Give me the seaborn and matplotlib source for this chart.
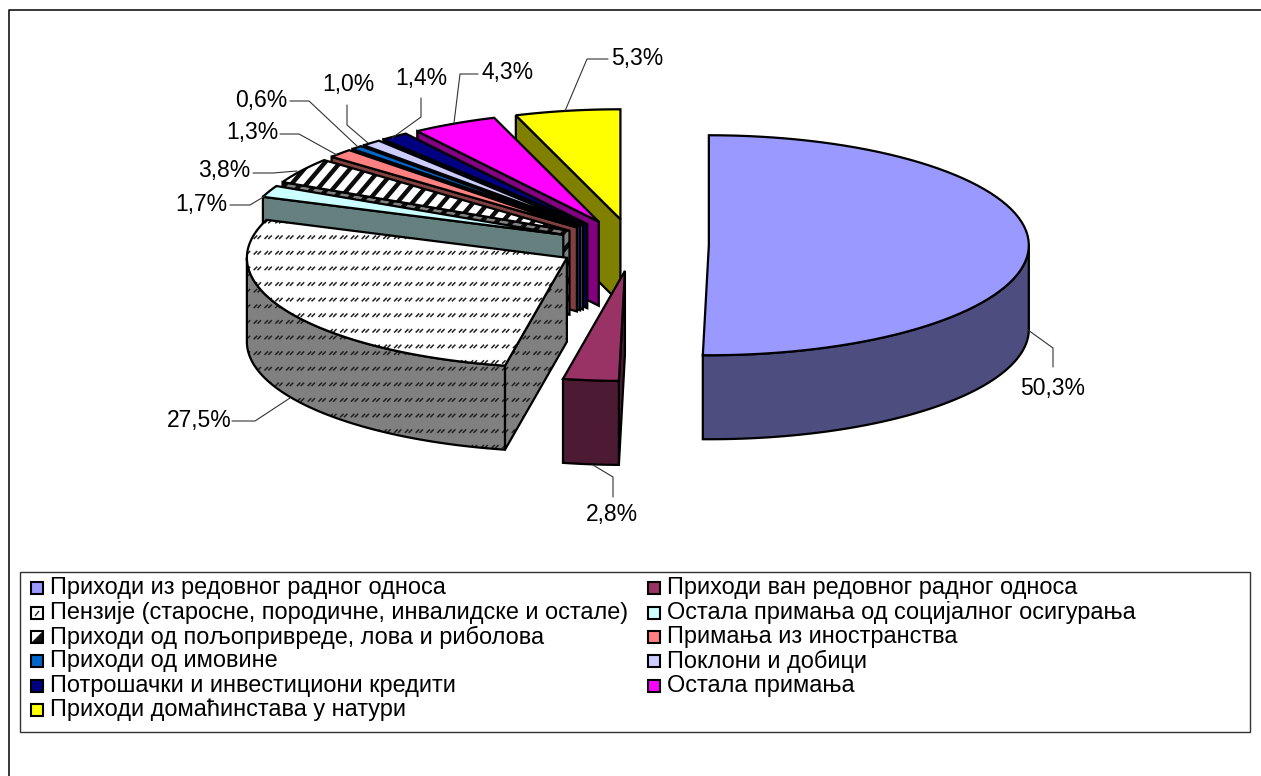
import numpy as np
import matplotlib
matplotlib.use('Agg')
import matplotlib.pyplot as plt
from matplotlib.collections import LineCollection
from matplotlib.patches import Polygon, Rectangle
import seaborn as sns

categories = [
    'Приходи из редовног радног односа',
    'Приходи ван редовног радног односа',
    'Пензије (старосне, породичне, инвалидске и остале)',
    'Остала примања од социјалног осигурања',
    'Приходи од пољопривреде, лова и риболова',
    'Примања из иностранства',
    'Приходи од имовине',
    'Поклони и добици',
    'Потрошачки и инвестициони кредити',
    'Остала примања',
    'Приходи домаћинстава у натури',
]
shares = [50.3, 2.8, 27.5, 1.7, 3.8, 1.3, 0.6, 1.0, 1.4, 4.3, 5.3]
top_colors = ['#9999FF', '#993366', '#FFFFFF', '#CCFFFF', '#FFFFFF', '#FF8080',
              '#0066CC', '#CCCCFF', '#000080', '#FF00FF', '#FFFF00']
textures = [None, None, 'dash', None, 'stripe', None, None, None, None, None, None]

# label centre and leader line for each slice, in pixels of the picture
label_pos = [(1053, 388), (612, 515), (199, 420), (201, 205), (224, 171), (252, 132),
             (261, 100), (348, 85), (421, 78), (508, 73), (637, 58)]
leaders = [
    [(1053, 367), (1053, 348), (1028, 330)],
    [(613, 497), (613, 477), (593, 465)],
    [(232, 421), (255, 421), (290, 398)],
    [(230, 205), (250, 205), (265, 196)],
    [(253, 173), (273, 173), (297, 171)],
    [(280, 134), (299, 134), (337, 155)],
    [(290, 101), (309, 101), (358, 147)],
    [(347, 105), (347, 125), (368, 143)],
    [(421, 98), (421, 117), (392, 138)],
    [(478, 74), (460, 74), (454, 123)],
    [(608, 59), (587, 59), (565, 111)],
]

CX, CY = 633, 245
RX, RY = 320, 110
DEPTH = 84
EXPLODE = 0.237
EDGE = 1.6

sns.set_theme(style='white')
plt.rcParams['font.family'] = ['Liberation Sans', 'DejaVu Sans']
palette = sns.color_palette(top_colors)


def rim(cx, cy, a0, a1, n=80):
    t = np.radians(np.linspace(a0, a1, n))
    return np.column_stack([cx + RX * np.sin(t), cy - RY * np.cos(t)])


def add_texture(ax, patch, kind, x0, x1, y0, y1):
    if kind == 'dash':
        segs = []
        for y in np.arange(y0, y1 + 16, 15.6):
            for x in np.arange(x0 - 4, x1 + 12, 10.8):
                segs.append([(x, y + 3.5), (x + 3.5, y)])
                segs.append([(x + 3.8, y + 3.5), (x + 7.3, y)])
        lc = LineCollection(segs, colors='#222222', linewidths=1.1, zorder=patch.get_zorder())
    else:
        segs = []
        h = y1 - y0 + 10
        for x in np.arange(x0 - h, x1 + h, 15.2):
            segs.append([(x, y1 + 5), (x + h * 0.85, y1 + 5 - h)])
        lc = LineCollection(segs, colors='#0c0c0c', linewidths=3.2, zorder=patch.get_zorder())
    ax.add_collection(lc)
    lc.set_clip_path(patch)


def add_face(ax, pts, color, kind, z):
    pts = np.asarray(pts)
    patch = Polygon(pts, closed=True, facecolor=color, edgecolor='none', zorder=z)
    ax.add_patch(patch)
    if kind:
        add_texture(ax, patch, kind, pts[:, 0].min(), pts[:, 0].max(), pts[:, 1].min(), pts[:, 1].max())
    ax.add_patch(Polygon(pts, closed=True, fill=False, edgecolor='black', linewidth=EDGE, zorder=z + 0.1))


fig = plt.figure(figsize=(12.61, 7.76), dpi=100)
ax = fig.add_axes([0, 0, 1, 1])
ax.set_xlim(0, 1261)
ax.set_ylim(776, 0)
ax.axis('off')

# outer chart frame
ax.plot([8.5, 8.5, 1261], [776, 9.5, 9.5], color='black', lw=1.1, zorder=1)

edges = np.concatenate([[0], np.cumsum(shares)]) / sum(shares) * 360
z = 2
for i in range(len(shares) - 1, -1, -1):
    a0, a1 = edges[i], edges[i + 1]
    mid = np.radians((a0 + a1) / 2)
    cx = CX + EXPLODE * RX * np.sin(mid)
    cy = CY - EXPLODE * RY * np.cos(mid)
    top = np.array(palette[i])
    side = top * 0.5 if textures[i] is None else np.array([0.5, 0.5, 0.5])
    drop = np.array([0, DEPTH])
    apex = np.array([cx, cy])

    if np.sin(np.radians(a0)) < -1e-6:
        outer = rim(cx, cy, a0, a0, 1)[0]
        add_face(ax, [apex, outer, outer + drop, apex + drop], side, textures[i], z)
        z += 1
    if np.sin(np.radians(a1)) > 1e-6:
        outer = rim(cx, cy, a1, a1, 1)[0]
        add_face(ax, [apex, outer, outer + drop, apex + drop], side, textures[i], z)
        z += 1
    lo, hi = max(a0, 90), min(a1, 270)
    if lo < hi:
        arc = rim(cx, cy, lo, hi)
        add_face(ax, np.vstack([arc, arc[::-1] + drop]), side, textures[i], z)
        z += 1
    add_face(ax, np.vstack([apex, rim(cx, cy, a0, a1)]), top, textures[i], z)
    z += 1

for share, pos, path in zip(shares, label_pos, leaders):
    ax.plot(*zip(*path), color='#333333', lw=0.8, zorder=50)
    ax.text(pos[0], pos[1], f'{share:.1f}%'.replace('.', ','), fontsize=16.5, color='black',
            ha='center', va='center', zorder=51)

# legend, filled row by row
ax.add_patch(Rectangle((20, 572), 1230, 160, facecolor='white', edgecolor='#333333', lw=1, zorder=60))
legend_rows = [588, 613, 637, 661, 686, 710]
for i, name in enumerate(categories):
    col, row = i % 2, i // 2
    sx = 31 if col == 0 else 648
    sy = legend_rows[row]
    swatch = Rectangle((sx, sy - 6), 12, 12, facecolor=palette[i], edgecolor='none', zorder=61)
    ax.add_patch(swatch)
    if textures[i] == 'dash':
        lc = LineCollection([[(sx + 4, sy + 3), (sx + 8, sy - 2)]], colors='#222222', linewidths=1, zorder=61.5)
        ax.add_collection(lc)
    elif textures[i] == 'stripe':
        ax.add_patch(Polygon([(sx, sy + 6), (sx + 12, sy - 6), (sx + 12, sy + 6)], closed=True,
                             facecolor='#111111', edgecolor='none', zorder=61.5))
    ax.add_patch(Rectangle((sx, sy - 6), 12, 12, fill=False, edgecolor='black', lw=1.5, zorder=62))
    ax.text(sx + 19, sy, name, fontsize=16.95, color='black', ha='left', va='center', zorder=62)

fig.savefig('out.png', dpi=100)
